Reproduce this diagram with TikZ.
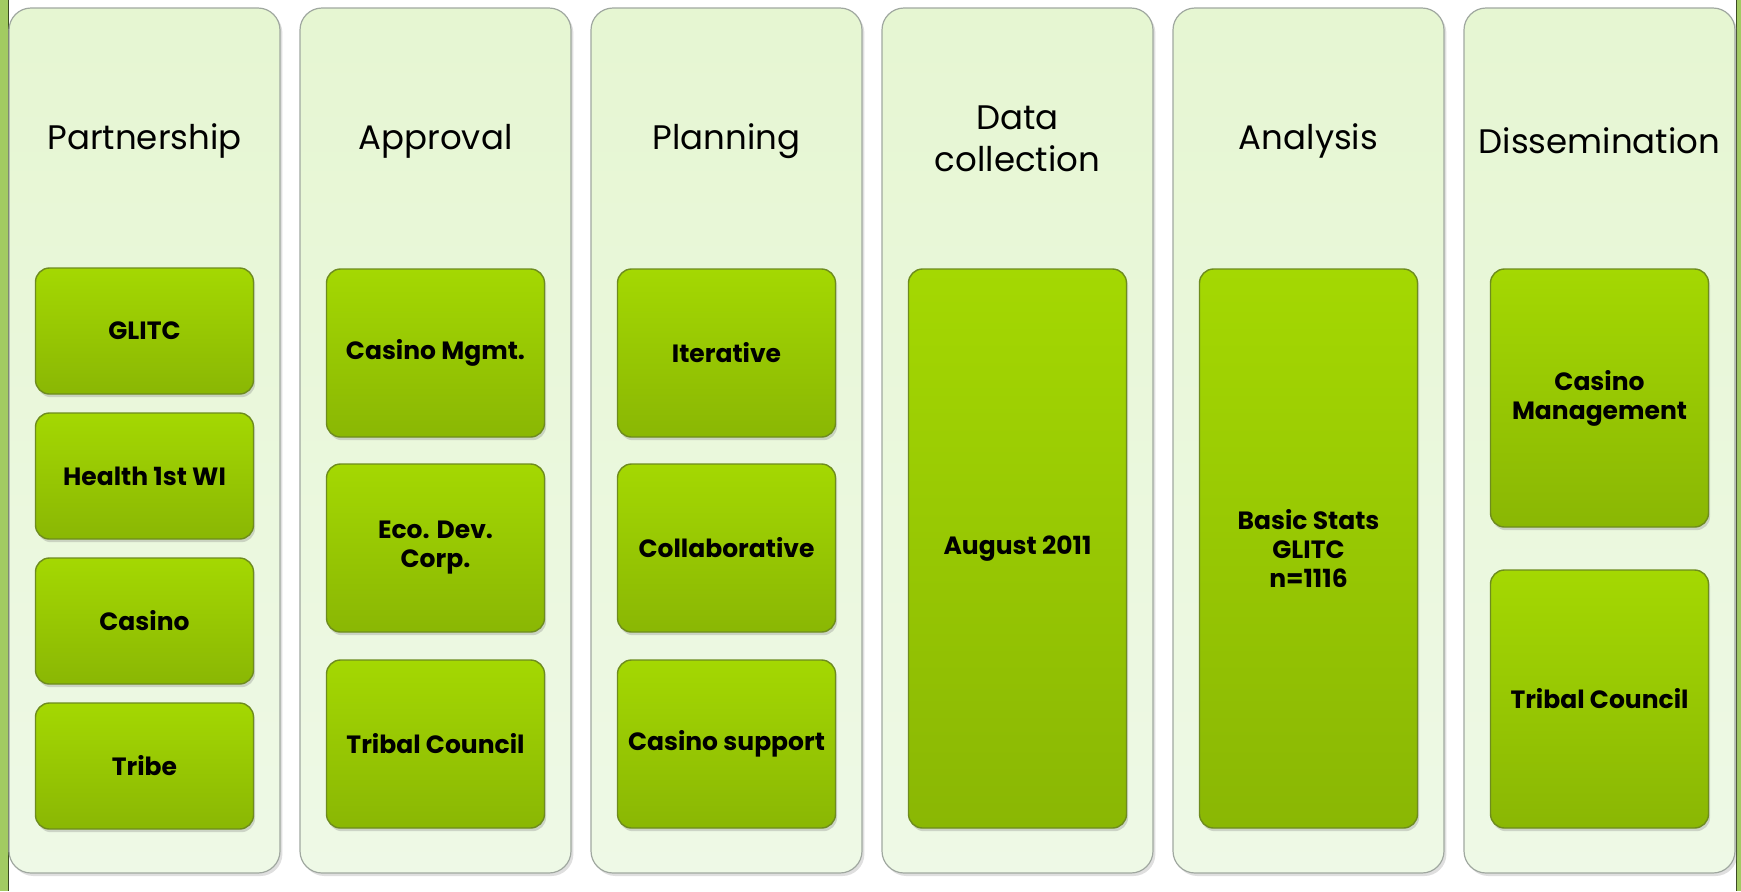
\documentclass[tikz,border=0pt]{standalone}
\usepackage{fontspec}
\setmainfont{Poppins}
\usetikzlibrary{shadows}
\definecolor{colfillA}{HTML}{E6F6D2}
\definecolor{colfillB}{HTML}{EEF9E6}
\definecolor{colline}{HTML}{A0A8A0}
\definecolor{boxtop}{HTML}{A4D802}
\definecolor{boxbot}{HTML}{8AB704}
\definecolor{boxline}{HTML}{6E8C1E}
\definecolor{stripgreen}{HTML}{A2CB62}
\definecolor{stripdark}{HTML}{3C4A24}
\tikzset{
  colbox/.style={rounded corners=11pt, draw=colline, line width=0.6pt,
    top color=colfillA, bottom color=colfillB,
    drop shadow={shadow xshift=1.2pt, shadow yshift=-1.5pt, opacity=0.25},
    minimum width=135.5pt, minimum height=432.5pt, inner sep=0pt},
  headtxt/.style={font=\fontsize{17}{21}\selectfont, align=center, text=black},
  itembox/.style={rounded corners=7pt, draw=boxline, line width=0.7pt,
    top color=boxtop, bottom color=boxbot,
    drop shadow={shadow xshift=0.8pt, shadow yshift=-1.6pt, opacity=0.3},
    minimum width=109pt, inner sep=2pt, align=center,
    font=\fontsize{12.5}{14.5}\selectfont\bfseries, text=black},
  hA/.style={minimum height=63pt},
  hB/.style={minimum height=84pt},
  hC/.style={minimum height=279.5pt},
  hD/.style={minimum height=129pt}
}
\begin{document}
\begin{tikzpicture}[x=0.5pt,y=-0.5pt]
\useasboundingbox[fill=white] (0,0) rectangle (1741,891);
% side strips
\fill[stripgreen] (0,0) rectangle (8,891);
\draw[stripdark, line width=0.8pt] (8.5,0) -- (8.5,891);
\fill[stripgreen] (1737,0) rectangle (1741,891);
\draw[stripdark, line width=0.8pt] (1736.5,0) -- (1736.5,891);
% columns
\foreach \i/\nm in {0/c1,1/c2,2/c3,3/c4,4/c5,5/c6}{
  \node[colbox] (\nm) at ({144.5+291*\i},440.5) {};
}
% headers
\node[headtxt] (h1) at (144.5,141) {Partnership};
\node[headtxt] (h2) at (435.5,141) {Approval};
\node[headtxt] (h3) at (726.5,141) {Planning};
\node[headtxt] (h4) at (1017.5,139) {Data\\collection};
\node[headtxt] (h5) at (1308.5,141) {Analysis};
\node[headtxt] (h6) at (1599.5,141) {Dissemination};
% column 1
\node[itembox,hA] (p1) at (144.5,331) {GLITC};
\node[itembox,hA] (p2) at (144.5,476) {Health 1st WI};
\node[itembox,hA] (p3) at (144.5,621) {Casino};
\node[itembox,hA] (p4) at (144.5,766) {Tribe};
% column 2
\node[itembox,hB] (a1) at (435.5,353) {Casino Mgmt.};
\node[itembox,hB] (a2) at (435.5,548) {Eco. Dev.\\Corp.};
\node[itembox,hB] (a3) at (435.5,744) {Tribal Council};
% column 3
\node[itembox,hB] (l1) at (726.5,353) {Iterative};
\node[itembox,hB] (l2) at (726.5,548) {Collaborative};
\node[itembox,hB] (l3) at (726.5,744) {Casino support};
% column 4
\node[itembox,hC] (d1) at (1017.5,548.5) {August 2011};
% column 5
\node[itembox,hC] (n1) at (1308.5,548.5) {Basic Stats\\GLITC\\n=1116};
% column 6
\node[itembox,hD] (s1) at (1599.5,398) {Casino\\Management};
\node[itembox,hD] (s2) at (1599.5,699) {Tribal Council};
\end{tikzpicture}
\end{document}
